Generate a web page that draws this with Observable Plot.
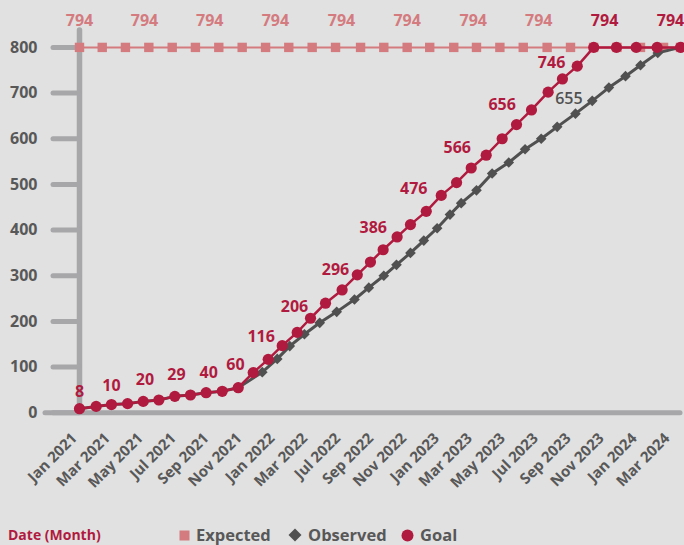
<!DOCTYPE html>
<html>
<head>
<meta charset="utf-8">
<script src="https://cdn.jsdelivr.net/npm/d3@7"></script>
<script src="https://cdn.jsdelivr.net/npm/@observablehq/plot@0.6"></script>
<style>
  html, body { margin: 0; padding: 0; background: #e1e1e1; }
  body { width: 684px; height: 545px; position: relative; overflow: hidden; font-family: "Open Sans", sans-serif; }
  #chart svg { display: block; }
  #foot { position: absolute; left: 0; top: 523px; width: 684px; height: 24px; }
  #foot .title { position: absolute; left: 8px; top: 0; font-size: 14px; font-weight: 700; color: #b11a3f; line-height: 24px; }
  #foot .item { position: absolute; top: 0; font-size: 16.5px; font-weight: 700; color: #585858; line-height: 24px; display: flex; align-items: center; gap: 6px; }
  #foot svg { display: block; }
</style>
</head>
<body>
<div id="chart"></div>
<div id="foot">
  <div class="title">Date (Month)</div>
  <div class="item" style="left:179px"><svg width="11" height="11"><rect x="0.5" y="0.5" width="10" height="10" fill="#d47b7f"/></svg>Expected</div>
  <div class="item" style="left:288px"><svg width="14" height="14"><path d="M7 0.5 L13.5 7 L7 13.5 L0.5 7 Z" fill="#505050"/></svg>Observed</div>
  <div class="item" style="left:401px"><svg width="13" height="13"><circle cx="6.5" cy="6.5" r="6" fill="#b11a3f"/></svg>Goal</div>
</div>
<script>
// x positions are in months since Jan 2021
const tickMonths = [0, 2, 4, 6, 8, 10, 12, 14, 16, 18, 20, 22, 24, 26, 28, 30, 32, 34, 36];
const tickLabels = ["Jan 2021", "Mar 2021", "May 2021", "Jul 2021", "Sep 2021", "Nov 2021",
  "Jan 2022", "Mar 2022", "Jul 2022", "Sep 2022", "Nov 2022", "Jan 2023", "Mar 2023",
  "May 2023", "Jul 2023", "Sep 2023", "Nov 2023", "Jan 2024", "Mar 2024"];
const yTicks = [0, 100, 200, 300, 400, 500, 600, 700, 800];

const expectedX = [0, 1.38, 2.79, 4.21, 5.63, 7.04, 8.46, 9.88, 11.30, 12.71, 14.13, 15.55, 17.07,
  18.48, 19.90, 21.27, 22.73, 24.11, 25.53, 26.95, 28.40, 29.82, 31.22, 32.64, 34.07, 35.47, 36.5];
const expectedY = [800, 800, 800, 800, 800, 800, 800, 800, 800, 800, 800, 800, 800, 800, 800, 800,
  800, 800, 800, 800, 800, 800, 800, 800, 800, 800, 800];

const goalX = [0, 1.01, 1.94, 2.92, 3.87, 4.82, 5.79, 6.74, 7.69, 8.67, 9.64, 10.55, 11.46, 12.31,
  13.22, 14.03, 14.94, 15.95, 16.87, 17.67, 18.44, 19.29, 20.10, 21.06, 21.97, 22.90, 23.79, 24.70,
  25.67, 26.54, 27.45, 28.46, 29.33, 30.23, 31.23, 32.61, 33.81, 35.08, 36.5];
const goalY = [9, 14, 18, 20, 25, 28, 36, 39, 44, 47, 55, 88, 117, 147, 176, 207, 240, 269, 302,
  330, 357, 385, 412, 441, 476, 504, 536, 564, 600, 631, 663, 702, 731, 759, 800, 800, 800, 800, 800];

const observedX = [0, 1.01, 1.94, 2.92, 3.87, 4.82, 5.79, 6.74, 7.69, 8.67, 9.64, 11.10, 12.01,
  12.77, 13.66, 14.59, 15.62, 16.70, 17.57, 18.48, 19.25, 20.10, 20.91, 21.72, 22.50, 23.18, 24.11,
  25.06, 26.07, 27.06, 28.04, 29.01, 30.12, 31.14, 32.15, 33.16, 34.07, 35.12, 36.5];
const observedY = [9, 14, 18, 20, 25, 28, 36, 39, 44, 47, 55, 89, 118, 146, 172, 197, 221, 248,
  274, 300, 324, 350, 377, 404, 434, 459, 487, 524, 548, 577, 600, 626, 655, 683, 712, 737, 761, 788, 800];

const goalLabelX = [0, 1.94, 3.97, 5.89, 7.85, 9.47, 11.03, 13.06, 15.55, 17.84, 20.30, 22.94,
  25.67, 28.67, 31.89, 35.89];
const goalLabelY = [10, 25, 38, 47, 53, 69, 132, 196, 278, 370, 455, 545, 640, 731, 822, 822];
const goalLabelText = ["8", "10", "20", "29", "40", "60", "116", "206", "296", "386", "476", "566",
  "656", "746", "794", "794"];

const expectedLabelX = [0, 3.95, 7.91, 11.90, 15.91, 19.90, 23.91, 27.89];
const expectedLabelY = [822, 822, 822, 822, 822, 822, 822, 822];
const expectedLabelText = ["794", "794", "794", "794", "794", "794", "794", "794"];

const observedLabelX = [29.72];
const observedLabelY = [652];
const observedLabelText = ["655"];

const pink = "#d47b7f", crimson = "#b11a3f", dark = "#505050", axisGray = "#a7a7aa", textGray = "#585858";

const zip = (xs, ys, ts) => xs.map((x, i) => ({x, y: ys[i], t: ts ? ts[i] : null}));
const expected = zip(expectedX, expectedY);
const goal = zip(goalX, goalY);
const observed = zip(observedX, observedY);
const goalLabels = zip(goalLabelX, goalLabelY, goalLabelText);
const expectedLabels = zip(expectedLabelX, expectedLabelY, expectedLabelText);
const observedLabels = zip(observedLabelX, observedLabelY, observedLabelText);

const chart = Plot.plot({
  width: 684,
  height: 515,
  marginLeft: 45,
  marginRight: 4,
  marginTop: 30,
  marginBottom: 102.7,
  x: {domain: [-2.065, 36.5]},
  y: {domain: [0, 837]},
  style: {background: "transparent", fontFamily: "Open Sans, sans-serif", overflow: "visible"},
  marks: [
    Plot.ruleY([0], {stroke: axisGray, strokeWidth: 5, strokeLinecap: "round"}),
    Plot.ruleX([0], {stroke: axisGray, strokeWidth: 5.5, strokeLinecap: "round"}),
    Plot.axisY({ticks: yTicks, tickSize: 26, dx: 34, tickPadding: 16, stroke: axisGray, strokeWidth: 5,
      strokeLinecap: "round", fill: textGray, fontSize: 16, fontWeight: 700, label: null}),
    Plot.axisX({ticks: tickMonths, tickFormat: d => tickLabels[tickMonths.indexOf(d)], tickRotate: -45,
      tickSize: 0, tickPadding: 23, dx: -5, fill: textGray, fontSize: 15, fontWeight: 700, label: null}),
    Plot.line(expected, {x: "x", y: "y", stroke: pink, strokeWidth: 2}),
    Plot.dot(expected, {x: "x", y: "y", symbol: "square", fill: pink, r: 5.3}),
    Plot.line(observed, {x: "x", y: "y", stroke: dark, strokeWidth: 3}),
    Plot.dot(observed, {x: "x", y: "y", symbol: "diamond2", fill: dark, r: 4.8}),
    Plot.line(goal, {x: "x", y: "y", stroke: crimson, strokeWidth: 2.5}),
    Plot.dot(goal, {x: "x", y: "y", fill: crimson, r: 5.6}),
    Plot.text(expectedLabels, {x: "x", y: "y", text: "t", fill: pink, fontSize: 16, fontWeight: 700, dy: -16}),
    Plot.text(goalLabels, {x: "x", y: "y", text: "t", fill: crimson, fontSize: 16, fontWeight: 700, dy: -16}),
    Plot.text(observedLabels, {x: "x", y: "y", text: "t", fill: dark, fontSize: 16, fontWeight: 600, dy: -16})
  ]
});
document.getElementById("chart").appendChild(chart);
</script>
</body>
</html>
